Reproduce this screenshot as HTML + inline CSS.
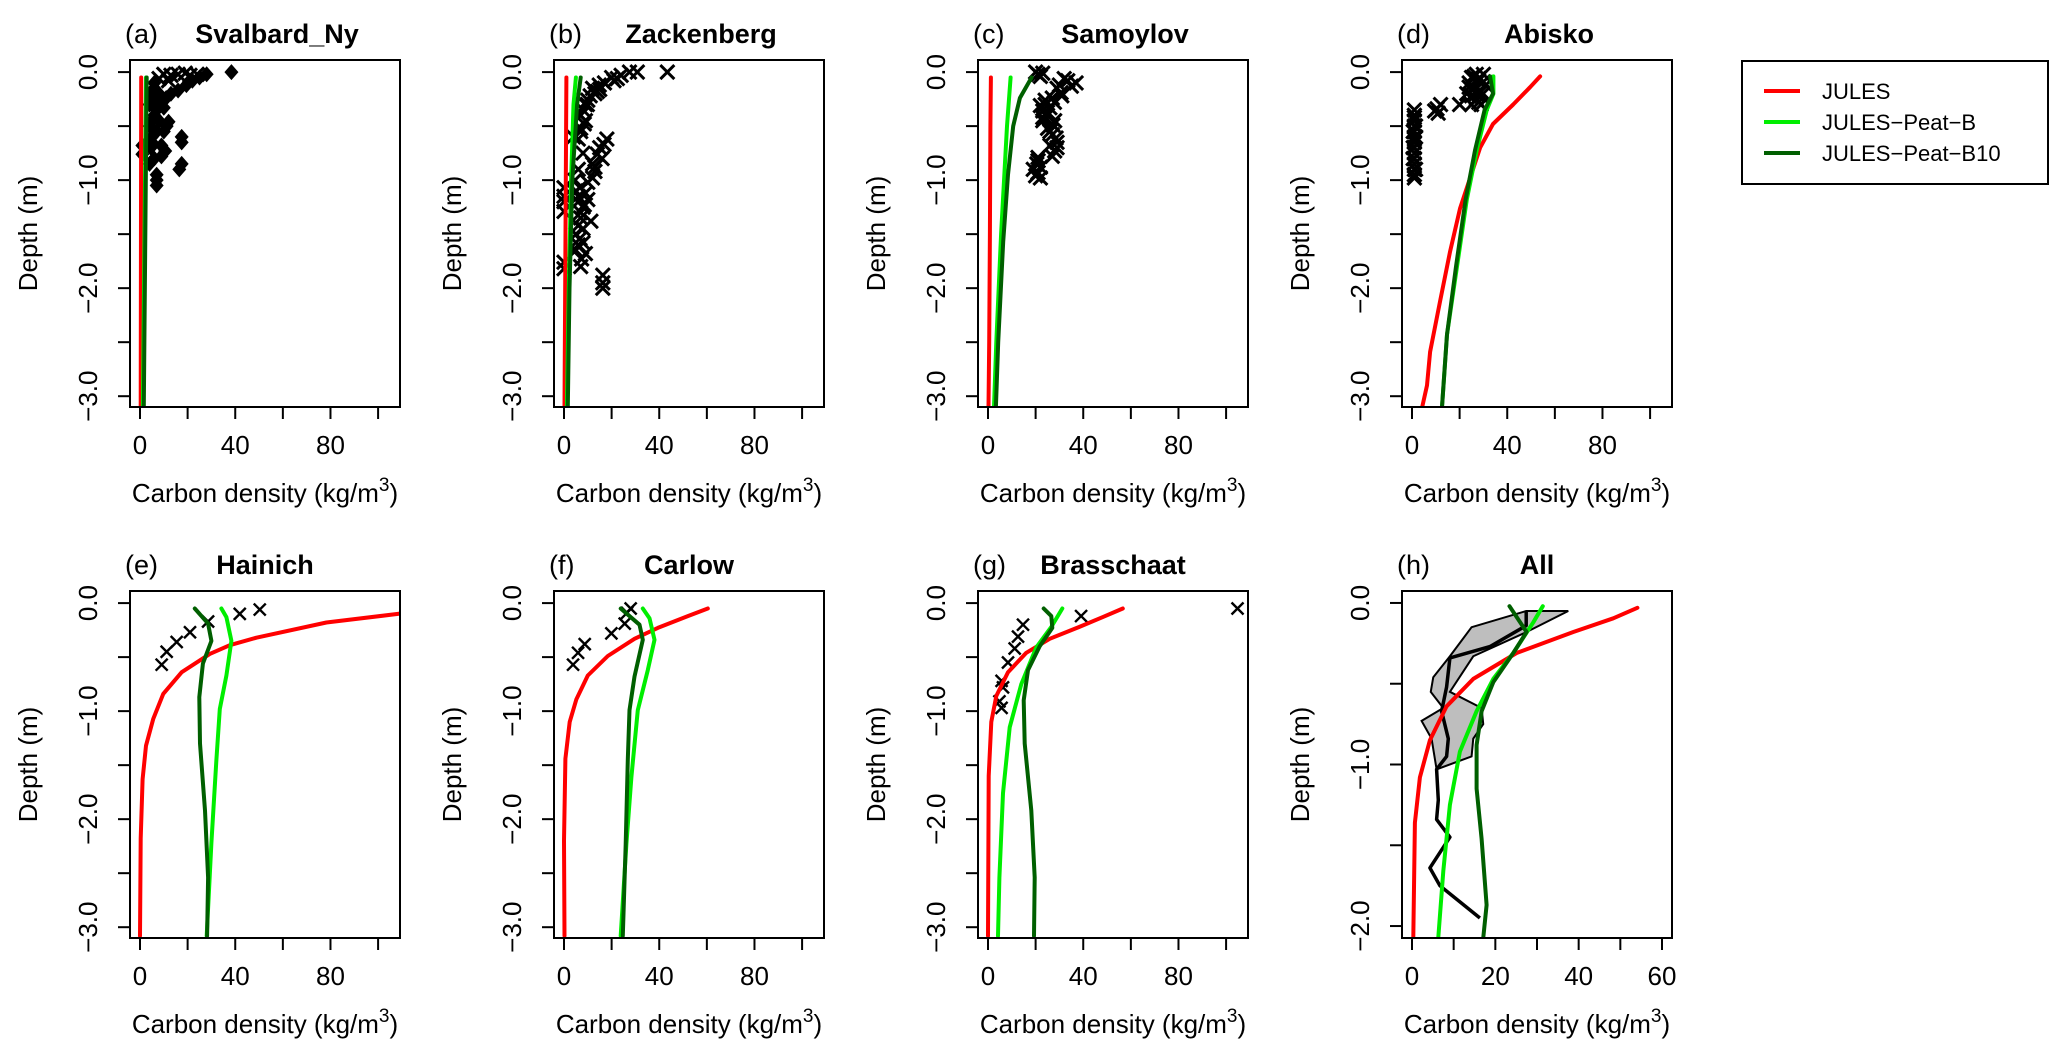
<!DOCTYPE html>
<html><head><meta charset="utf-8"><style>
html,body{margin:0;padding:0;background:#fff;}
svg{display:block;font-family:"Liberation Sans",sans-serif;}
</style></head><body>
<svg id="fig" width="2067" height="1063" viewBox="0 0 2067 1063" xmlns="http://www.w3.org/2000/svg"></svg>
<script>
// ---- data (value, depth) ----
const aRedD=[-0.05,-3.1], aRedV=[0.5,0.3];
const aLgD=[-0.05,-3.1], aLgV=[2.5,1.2];
const aDgD=[-0.05,-3.1], aDgV=[2.8,1.6];
const aDiaV=[38.4,28,25,22,19.5,16,13,11,8,6,5,4,7,6,5,4,8,7,5,11.2,10,17.5,17.5,10.6,9,4.5,3,17.5,16.5,7,7,7,1,1,6,5,12,9,6,4,10,8,6,5];
const aDiaD=[0,-0.02,-0.05,-0.08,-0.12,-0.17,-0.2,-0.24,-0.28,-0.1,-0.2,-0.3,-0.35,-0.4,-0.45,-0.5,-0.45,-0.55,-0.6,-0.5,-0.55,-0.6,-0.65,-0.73,-0.78,-0.7,-0.65,-0.85,-0.9,-0.95,-1.0,-1.05,-0.68,-0.76,-0.15,-0.25,-0.46,-0.68,-0.8,-0.85,-0.33,-0.2,-0.55,-0.65];
const aXV=[10,13,16,19,21,24,8,12];
const aXD=[-0.02,-0.03,-0.02,-0.01,-0.03,-0.02,-0.06,-0.08];

const bRedD=[-0.05,-3.1], bRedV=[1,0.2];
const bLgD=[-0.05,-0.3,-1,-2,-3.1], bLgV=[5,4,3,2,1.2];
const bDgD=[-0.05,-0.3,-1,-2,-3.1], bDgV=[7,5.5,3.5,2.3,1.6];
const bXV=[43.4,30.8,27.5,22.4,20,14.8,14,12,9.8,8.5,7,16.8,15,14,13,12,6.7,0,0,8.5,11.3,6.7,7.4,0,16.3,16.3,16.3,4.6,5,6,7,8,5,6,7,9,4,6,
 24,21,17,15,13,11,10,8,9,7,6,18,16,13,12,10,9,8,7,6,5,8,9,7,6,0,0,0,8,10];
const bXD=[0,0,0,-0.06,-0.05,-0.12,-0.18,-0.15,-0.3,-0.48,-0.4,-0.67,-0.7,-0.76,-0.92,-0.85,-1.07,-1.07,-1.29,-1.23,-1.38,-1.54,-1.73,-1.76,-1.88,-1.95,-2.0,-1.0,-1.1,-1.15,-1.3,-1.45,-1.5,-1.6,-0.55,-0.3,-0.6,-1.2,
 -0.03,-0.08,-0.1,-0.16,-0.2,-0.22,-0.26,-0.35,-0.45,-0.52,-0.62,-0.62,-0.8,-0.88,-0.98,-1.02,-1.12,-1.25,-1.35,-1.42,-1.65,-1.58,-1.68,-1.8,-0.9,-1.15,-1.2,-1.82,-0.75,-1.18];

const cRedD=[-0.05,-0.5,-1.5,-2.5,-3.1], cRedV=[1.2,1.0,0.8,0.5,0.2];
const cLgD=[-0.05,-0.5,-1.5,-2.5,-3.1], cLgV=[9.5,8,5.5,3.5,2.5];
const cDgD=[-0.05,-0.24,-0.5,-0.95,-1.57,-2.5,-3.1], cDgV=[18.3,13.4,10.6,8.4,6.4,4.3,3.3];
const cXV=[21,22,37,33.5,30.7,27.9,25,23,27.3,28.6,28,21,20.5,21,24,30,26,
 20,23,35,32,29,31,27,26,24,22,23,25,27,29,28,26,27,29,22,21,20,22,19,21,23,25];
const cXD=[-0.02,-0.04,-0.1,-0.08,-0.19,-0.28,-0.37,-0.42,-0.49,-0.61,-0.73,-0.79,-0.85,-0.93,-0.3,-0.12,-0.55,
 0,-0.01,-0.13,-0.06,-0.15,-0.22,-0.24,-0.33,-0.26,-0.31,-0.45,-0.52,-0.58,-0.65,-0.45,-0.68,-0.78,-0.7,-0.88,-0.82,-0.96,-0.98,-0.9,-0.82,-0.36,-0.4];

const dRedD=[-0.04,-0.14,-0.3,-0.48,-0.7,-0.98,-1.26,-1.66,-2.12,-2.59,-2.9,-3.1], dRedV=[53.8,49.6,42.5,34,28.6,24.4,20.2,16,11.8,7.6,6.3,4.3];
const dLgD=[-0.04,-0.2,-0.35,-0.72,-1.18,-1.8,-2.43,-3.1], dLgV=[34.2,34.2,31.4,27.2,23,18.9,14.7,12.6];
const dDgD=[-0.04,-0.2,-0.35,-0.72,-1.18,-1.8,-2.43,-3.1], dDgV=[32.8,34,30.5,26.5,22.5,18.5,14.7,12.6];
const dXV=[27,30,25,28,24,31,26,29,23,27,25,29,20,10.5,11,12,1,1,1,1,1,1,1,1,1,1,1,1,1,1,1,1,1.5,0.5,
 26,28,30,24,27,29,25,28,9.5,1.5,0.5,1.5,0.5];
const dXD=[-0.02,-0.02,-0.05,-0.08,-0.1,-0.12,-0.15,-0.18,-0.2,-0.25,-0.3,-0.3,-0.3,-0.34,-0.38,-0.3,-0.35,-0.4,-0.45,-0.5,-0.55,-0.6,-0.65,-0.7,-0.75,-0.8,-0.85,-0.9,-0.95,-0.98,-0.42,-0.62,-0.5,-0.7,
 -0.04,-0.06,-0.09,-0.14,-0.2,-0.22,-0.22,-0.28,-0.36,-0.6,-0.8,-0.9,-0.55];

const eRedD=[-0.05,-0.1,-0.18,-0.32,-0.39,-0.47,-0.64,-0.84,-1.07,-1.32,-1.63,-2.18,-3.08], eRedV=[118,108.3,78.3,48.9,37.7,29.3,17.5,9.8,5.6,2.5,1.1,0.3,0];
const eLgD=[-0.05,-0.13,-0.35,-0.67,-0.98,-1.45,-2.22,-3.08], eLgV=[34.2,36.3,38.4,36.3,33.5,32.1,30,28];
const eDgD=[-0.05,-0.19,-0.35,-0.56,-0.87,-1.3,-1.92,-2.54,-3.08], eDgV=[23,28.6,30,26.4,24.9,25.2,27.3,28.6,28.2];
const eXV=[50.3,41.9,28.6,21,15.4,11.2,9.1];
const eXD=[-0.06,-0.1,-0.17,-0.27,-0.36,-0.45,-0.57];

const fRedD=[-0.05,-0.12,-0.23,-0.33,-0.49,-0.67,-0.89,-1.1,-1.44,-2.2,-3.08], fRedV=[60.4,52,39.4,29.6,18.4,10,5.2,2.4,0.6,0,0.2];
const fLgD=[-0.05,-0.14,-0.34,-0.62,-0.99,-1.61,-2.23,-3.08], fLgV=[33.1,35.9,38,35.2,31,28.3,26.2,23.8];
const fDgD=[-0.05,-0.2,-0.34,-0.68,-0.99,-1.45,-2.23,-3.08], fDgV=[23.8,31.7,33.1,29.6,27.5,26.8,25.9,24.7];
const fXV=[28,26.5,25.5,19.9,8.7,5.9,3.8];
const fXD=[-0.05,-0.09,-0.19,-0.28,-0.38,-0.46,-0.57];

const gRedD=[-0.05,-0.13,-0.22,-0.33,-0.46,-0.64,-0.86,-1.1,-1.6,-3.08], gRedV=[56.6,48.2,38.4,25.9,16.1,8.4,3.5,1.4,0.3,0];
const gLgD=[-0.05,-0.22,-0.41,-0.75,-1.15,-1.76,-2.54,-3.08], gLgV=[31.2,26.6,20.3,14,9.1,6.3,4.8,4.2];
const gDgD=[-0.05,-0.12,-0.23,-0.4,-0.62,-0.9,-1.3,-1.92,-2.54,-3.08], gDgV=[23.4,26.6,27,21.7,16.8,15,15.4,18.2,19.6,19.3];
const gXV=[104.8,39.1,14.7,12.6,11.2,8.4,5.7,6.3,4.8,5.7];
const gXD=[-0.05,-0.12,-0.2,-0.31,-0.42,-0.55,-0.72,-0.78,-0.91,-0.97];

const hRedD=[-0.03,-0.095,-0.18,-0.31,-0.47,-0.64,-0.85,-1.08,-1.36,-2.07], hRedV=[54.1,48.3,38.7,25.1,14.7,8.3,4.3,1.9,0.7,0.3];
const hLgD=[-0.02,-0.12,-0.31,-0.47,-0.67,-0.92,-1.25,-1.66,-2.07], hLgV=[31.4,29.1,24.3,19.5,15.5,11.5,9.1,7.5,6.3];
const hDgD=[-0.02,-0.18,-0.31,-0.49,-0.67,-0.88,-1.15,-1.46,-1.87,-2.07], hDgV=[23.4,27.5,24.3,19.5,16.7,15.5,15.5,16.7,17.9,17.1];
const hObsD=[-0.05,-0.14,-0.27,-0.34,-0.52,-0.67,-0.84,-0.95,-1.03,-1.22,-1.34,-1.45,-1.64,-1.75,-1.95];
const hObsV=[27.4,27.4,18.7,9.1,8.3,7.1,8.7,8.3,5.9,6.3,5.9,9.1,4.3,6.7,16.3];
const hBandD=[-0.05,-0.05,-0.18,-0.33,-0.55,-0.65,-0.75,-0.84,-0.95,-1.03,-0.84,-0.73,-0.65,-0.55,-0.46,-0.33,-0.15];
const hBandV=[27.4,37.5,27.5,14.7,9.1,16.7,17.1,14.7,14.3,5.9,4.7,2.3,7.5,4.5,5.1,9.1,14.3];

const colLeft=[130,554,978,1402], rowTop=[60,591], BW=270, BH=347;
const NS='http://www.w3.org/2000/svg';
const svg=document.getElementById('fig');
function el(t,a,p){const e=document.createElementNS(NS,t);for(const k in a)e.setAttribute(k,a[k]);(p||svg).appendChild(e);return e;}

const panels=[
 {id:'a',tag:'(a)',name:'Svalbard_Ny',c:0,r:0,red:[aRedV,aRedD],lg:[aLgV,aLgD],dg:[aDgV,aDgD],x:[aXV,aXD],dia:[aDiaV,aDiaD]},
 {id:'b',tag:'(b)',name:'Zackenberg',c:1,r:0,red:[bRedV,bRedD],lg:[bLgV,bLgD],dg:[bDgV,bDgD],x:[bXV,bXD]},
 {id:'c',tag:'(c)',name:'Samoylov',c:2,r:0,red:[cRedV,cRedD],lg:[cLgV,cLgD],dg:[cDgV,cDgD],x:[cXV,cXD]},
 {id:'d',tag:'(d)',name:'Abisko',c:3,r:0,red:[dRedV,dRedD],lg:[dLgV,dLgD],dg:[dDgV,dDgD],x:[dXV,dXD]},
 {id:'e',tag:'(e)',name:'Hainich',c:0,r:1,red:[eRedV,eRedD],lg:[eLgV,eLgD],dg:[eDgV,eDgD],x:[eXV,eXD]},
 {id:'f',tag:'(f)',name:'Carlow',c:1,r:1,red:[fRedV,fRedD],lg:[fLgV,fLgD],dg:[fDgV,fDgD],x:[fXV,fXD]},
 {id:'g',tag:'(g)',name:'Brasschaat',c:2,r:1,red:[gRedV,gRedD],lg:[gLgV,gLgD],dg:[gDgV,gDgD],x:[gXV,gXD]},
 {id:'h',tag:'(h)',name:'All',c:3,r:1,red:[hRedV,hRedD],lg:[hLgV,hLgD],dg:[hDgV,hDgD],all:true}
];

panels.forEach(p=>{
  const L=colLeft[p.c], T=rowTop[p.r], R=L+BW, B=T+BH;
  const xmin=p.all?-2.4:-4.2, xmax=p.all?62.4:109.2;
  const ymax=p.all?0.074:0.112, ymin=p.all?-2.074:-3.1;
  const sx=v=>L+(v-xmin)/(xmax-xmin)*BW;
  const sy=d=>T+(ymax-d)/(ymax-ymin)*BH;
  const g=el('g',{});
  
  
  const cid='clip'+p.id;
  const cp=el('clipPath',{id:cid},g); el('rect',{x:L,y:T,width:BW,height:BH},cp);
  const pg=el('g',{'clip-path':'url(#'+cid+')'},g);
  if(p.all){
    const pts=hBandV.map((v,i)=>sx(v)+','+sy(hBandD[i])).join(' ');
    const band=el('polygon',{points:pts,fill:'#bebebe',stroke:'#000','stroke-width':2},pg);
    
    
  }
  const line=(arr,col,w,name)=>{
    const d=arr[0].map((v,i)=>(i?'L':'M')+sx(v).toFixed(1)+','+sy(arr[1][i]).toFixed(1)).join('');
    const e=el('path',{d:d,fill:'none',stroke:col,'stroke-width':w,'stroke-linejoin':'round','stroke-linecap':'round'},pg);
    
    
  };
  if(p.all){
    const d=hObsV.map((v,i)=>(i?'L':'M')+sx(v).toFixed(1)+','+sy(hObsD[i]).toFixed(1)).join('');
    const e=el('path',{d:d,fill:'none',stroke:'#000','stroke-width':3.5,'stroke-linejoin':'round'},pg);
    
    
  }
  if(p.dia){
    p.dia[0].forEach((v,i)=>{
      const cx=sx(v), cy=sy(p.dia[1][i]);
      const e=el('polygon',{points:`${cx},${cy-8} ${cx+7},${cy} ${cx},${cy+8} ${cx-7},${cy}`,fill:'#000'},pg);
      
      
    });
  }
  if(p.x){
    const s=p.r===0?7:6, sw=p.r===0?3:2.4;
    p.x[0].forEach((v,i)=>{
      const cx=sx(v), cy=sy(p.x[1][i]);
      const e=el('path',{d:`M${cx-s},${cy-s}L${cx+s},${cy+s}M${cx-s},${cy+s}L${cx+s},${cy-s}`,stroke:'#000','stroke-width':sw,fill:'none'},pg);
      
      
    });
  }
  line(p.red,'#ff0000',4,'jules-line');
  line(p.lg,'#00ee00',4,'jules-peat-b-line');
  line(p.dg,'#005f00',4,'jules-peat-b10-line');
  const bx=el('rect',{x:L,y:T,width:BW,height:BH,fill:'none',stroke:'#000','stroke-width':2},g);
  
  
  const xt=p.all?[0,10,20,30,40,50,60]:[0,20,40,60,80,100];
  const xl=p.all?[0,20,40,60]:[0,40,80];
  xt.forEach(v=>el('line',{x1:sx(v),x2:sx(v),y1:B,y2:B+12,stroke:'#000','stroke-width':2},g));
  xl.forEach(v=>{const t=el('text',{x:sx(v),y:B+47,'font-size':26,'text-anchor':'middle'},g);t.textContent=v;
    });
  const ylo=p.all?-2:-3;
  for(let d=0;d>=ylo-1e-9;d-=0.5) el('line',{x1:L-12,x2:L,y1:sy(d),y2:sy(d),stroke:'#000','stroke-width':2},g);
  for(let d=0;d>=ylo;d-=1){
    const y=sy(d), x=L-33;
    const t=el('text',{x:x,y:y,'font-size':26,'text-anchor':'middle',transform:`rotate(-90 ${x} ${y})`},g);
    t.textContent=(d===0?'0.0':'\u2212'+(-d).toFixed(1));
    
  }
  const xtt=el('text',{x:(L+R)/2,y:B+95,'font-size':26,'text-anchor':'middle'},g);
  xtt.innerHTML='Carbon density (kg/m<tspan dy="-11" font-size="19">3</tspan><tspan dy="11">)</tspan>';
  
  const yx=L-93, yy=(T+B)/2;
  const ytt=el('text',{x:yx,y:yy,'font-size':26,'text-anchor':'middle',transform:`rotate(-90 ${yx} ${yy})`},g);
  ytt.textContent='Depth (m)';
  
  const ty=T-17;
  const tg=el('text',{x:L-5,y:ty,'font-size':27},g);tg.textContent=p.tag;
  
  const tn=el('text',{x:(L+R)/2+(p.r===0?12:0),y:ty,'font-size':27,'font-weight':'bold','text-anchor':'middle'},g);tn.textContent=p.name;
  
});

const lg=el('g',{});


el('rect',{x:1742,y:61,width:306,height:123,fill:'#fff',stroke:'#000','stroke-width':2},lg);
const legNames=['JULES','JULES\u2212Peat\u2212B','JULES\u2212Peat\u2212B10'];
const legCols=['#ff0000','#00ee00','#005f00'];
legNames.forEach((n,i)=>{
  const y=91+i*31;
  const ent=el('g',{},lg);
  
  
  el('line',{x1:1764,x2:1800,y1:y,y2:y,stroke:legCols[i],'stroke-width':4},ent);
  const t=el('text',{x:1822,y:y+8,'font-size':22},ent);t.textContent=n;
});
</script>
</body></html>
